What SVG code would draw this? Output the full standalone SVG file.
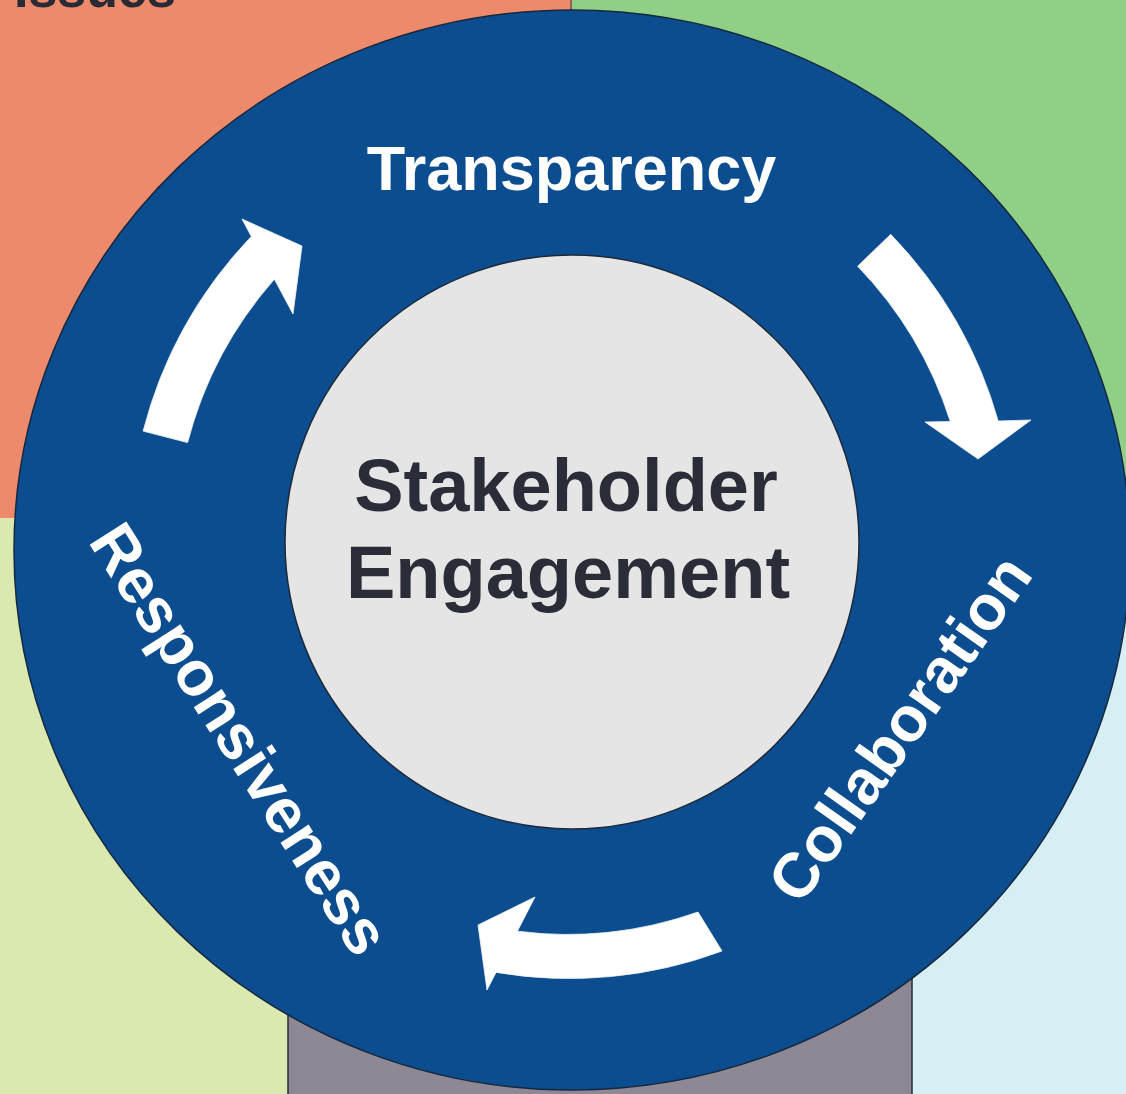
<svg xmlns="http://www.w3.org/2000/svg" width="1126" height="1094" viewBox="0 0 1126 1094">
  <style>
    .lbl { font-family: "Liberation Sans", Arial, sans-serif; font-weight: bold; }
    .ring-lbl { fill: #ffffff; font-size: 63px; }
    .center-lbl { fill: #2a2c38; font-size: 74px; }
    .arrow { fill: #ffffff; stroke: #f4f4f4; stroke-width: 0.8; }
  </style>
  <g id="background">
    <rect x="0" y="0" width="572" height="518" fill="#ec8a6b"/>
    <rect x="572" y="0" width="554" height="580" fill="#8fcf86"/>
    <rect x="0" y="518" width="300" height="576" fill="#d9e9b0"/>
    <rect x="820" y="580" width="306" height="514" fill="#d6eff4"/>
    <rect x="288" y="900" width="624" height="200" fill="#8d8894" stroke="#2b2a30" stroke-width="1.5"/>
    <line x1="571" y1="0" x2="571" y2="20" stroke="#3a3a3a" stroke-width="1"/>
    <text class="lbl" x="14" y="7" font-size="52" fill="#2a2a35">Issues</text>
  </g>
  <g id="ring">
    <ellipse cx="572" cy="550" rx="558" ry="540" fill="#0b4d8f" stroke="#15283f" stroke-width="1.5"/>
  </g>
  <g id="center-node">
    <circle cx="572" cy="542" r="287" fill="#e5e5e6" stroke="#1d2a3a" stroke-width="1.5"/>
    <text class="lbl center-lbl" x="566" y="511" text-anchor="middle">Stakeholder</text>
    <text class="lbl center-lbl" x="568" y="598" text-anchor="middle">Engagement</text>
  </g>
  <g id="node-transparency">
    <text class="lbl ring-lbl" x="571.5" y="190" text-anchor="middle">Transparency</text>
  </g>
  <g id="node-collaboration">
    <text class="lbl ring-lbl" transform="translate(903.5,731) rotate(-54.8)" x="0" y="17" text-anchor="middle">Collaboration</text>
  </g>
  <g id="node-responsiveness">
    <text class="lbl ring-lbl" transform="translate(236,741.5) rotate(57.35)" x="0" y="17" text-anchor="middle">Responsiveness</text>
  </g>
  <g id="connectors">
    <path class="arrow" d="M143.1,431.1 A443,443 0 0 1 251.3,236.4 L242,219 L302,246 L293,314 L274.4,279.3 A397,397 0 0 0 187.6,442.6 Z"/>
    <path class="arrow" d="M890.7,234.3 A443,443 0 0 1 998.2,421 L1031,420 L978,459 L925,422 L950.3,421.5 A397,397 0 0 0 857.6,266.2 Z"/>
    <path class="arrow" d="M722,951 A437,437 0 0 1 496.1,972.4 L487,990 L478,925 L535,897 L517.4,931.2 A393,393 0 0 0 698,912 Z"/>
  </g>
</svg>
